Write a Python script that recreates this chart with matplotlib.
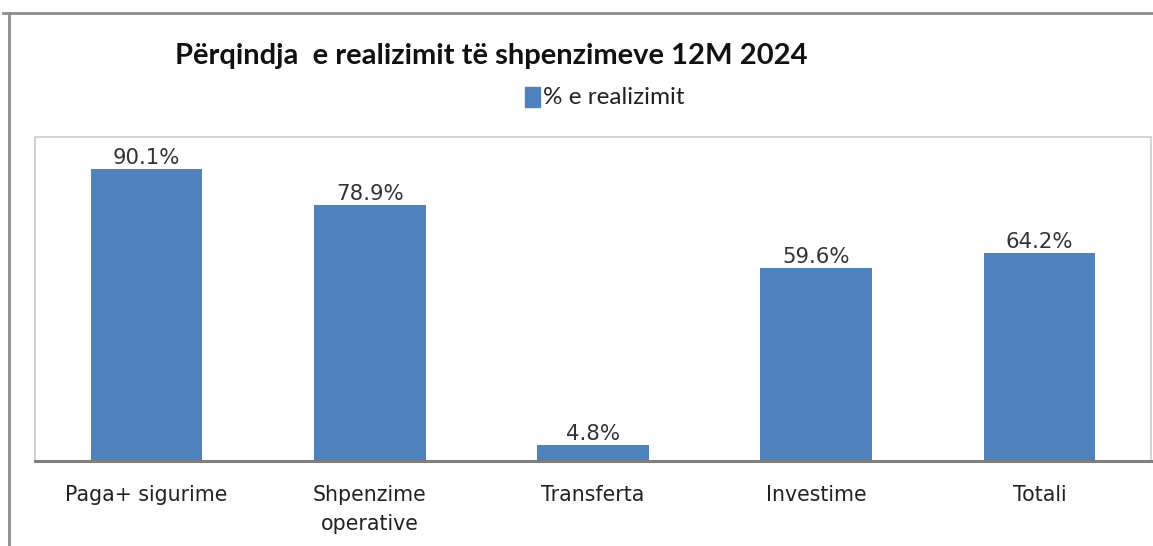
import matplotlib
matplotlib.use("Agg")
import matplotlib.pyplot as plt
from matplotlib.lines import Line2D
from matplotlib.patches import Rectangle

categories = ["Paga+ sigurime", "Shpenzime\noperative", "Transferta", "Investime", "Totali"]
values = [90.1, 78.9, 4.8, 59.6, 64.2]
labels = ["90.1%", "78.9%", "4.8%", "59.6%", "64.2%"]
title = "Përqindja  e realizimit të shpenzimeve 12M 2024"
series_name = "% e realizimit"

W, H = 1153, 546
fig = plt.figure(figsize=(W / 100, H / 100), dpi=100)
fig.patch.set_facecolor("white")

ax = fig.add_axes([35 / W, 1 - 461 / H, (1151 - 35) / W, (461 - 137) / H])
x = list(range(len(categories)))
bars = ax.bar(x, values, width=0.5, color="#4F81BD", zorder=2)
ax.set_xlim(-0.5, len(categories) - 0.5)
ax.set_ylim(0, 100)
ax.set_yticks([])
ax.set_xticks(x)
ax.set_xticklabels(categories, fontsize=14.8, color="#222222", family="DejaVu Sans",
                   linespacing=1.6)
ax.tick_params(axis="x", length=0, pad=17)
for side in ["top", "left", "right"]:
    ax.spines[side].set_color("#d4d4d4")
    ax.spines[side].set_linewidth(1.5)
ax.spines["bottom"].set_color("#7f7f7f")
ax.spines["bottom"].set_linewidth(2.2)

for b, lab in zip(bars, labels):
    ax.annotate(lab, (b.get_x() + b.get_width() / 2, b.get_height()),
                xytext=(0, 1), textcoords="offset points",
                ha="center", va="bottom", fontsize=15.3, color="#333333",
                family="DejaVu Sans")

# title and legend
fig.text(491 / W, 1 - 56 / H, title, ha="center", va="center",
         fontsize=21, fontweight="bold", family="Lato", color="#111111")
fig.patches.append(Rectangle((525 / W, 1 - 107 / H), 15 / W, 20 / H,
                             transform=fig.transFigure, color="#4F81BD"))
fig.text(543 / W, 1 - 97 / H, series_name, ha="left", va="center",
         fontsize=17.5, family="Lato", color="#222222")

# outer chart border
fig.add_artist(Line2D([3 / W, 1.0], [1 - 13 / H, 1 - 13 / H], transform=fig.transFigure,
                      color="#8c8c8c", lw=2))
fig.add_artist(Line2D([9 / W, 9 / W], [1 - 13 / H, 0], transform=fig.transFigure,
                      color="#8c8c8c", lw=2))

fig.savefig("out.png", dpi=100, facecolor="white")
